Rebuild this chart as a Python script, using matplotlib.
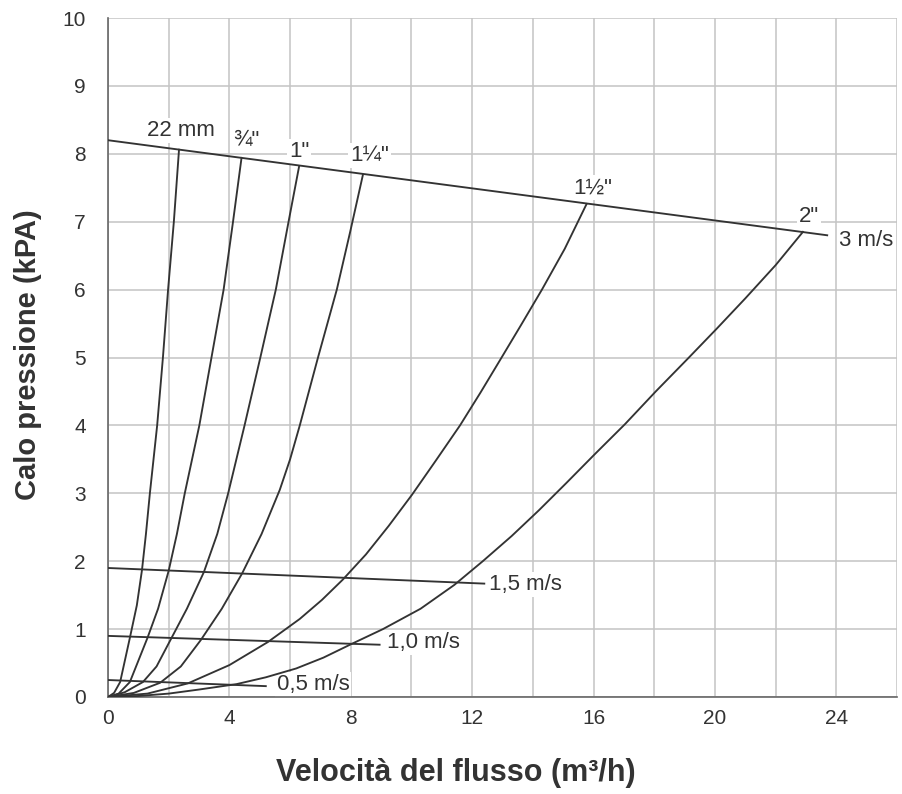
import matplotlib
matplotlib.use("Agg")
import matplotlib.pyplot as plt

plt.rcParams["font.family"] = ["Liberation Sans", "DejaVu Sans"]

# pipe curves: flow (m3/h) vs pressure drop (kPa)
x_22mm = [0, 0.2, 0.4, 0.72, 0.95, 1.12, 1.25, 1.38, 1.62, 1.81, 1.98, 2.17, 2.34]
y_22mm = [0, 0.06, 0.22, 0.87, 1.35, 1.87, 2.4, 3.0, 4.0, 5.0, 6.0, 7.0, 8.06]

x_34 = [0, 0.35, 0.72, 1.3, 1.65, 2.0, 2.27, 2.53, 3.01, 3.41, 3.81, 4.12, 4.4]
y_34 = [0, 0.05, 0.22, 0.87, 1.3, 1.86, 2.4, 3.0, 4.0, 5.0, 6.0, 7.0, 7.94]

x_1 = [0, 0.55, 1.15, 1.6, 2.07, 2.6, 3.16, 3.6, 3.96, 4.5, 5.02, 5.53, 5.95, 6.3]
y_1 = [0, 0.07, 0.22, 0.45, 0.85, 1.3, 1.84, 2.4, 3.0, 4.0, 5.0, 6.0, 7.0, 7.82]

x_114 = [0, 0.85, 1.72, 2.4, 3.06, 3.75, 4.42, 5.06, 5.66, 6.0, 6.32, 6.92, 7.54, 7.98, 8.4]
y_114 = [0, 0.06, 0.21, 0.45, 0.84, 1.3, 1.82, 2.4, 3.05, 3.5, 4.0, 5.0, 6.0, 6.85, 7.69]

x_112 = [0, 1.3, 2.63, 4.0, 5.27, 6.32, 7.05, 7.74, 8.5, 9.25, 10.02, 10.8, 11.6,
         12.27, 12.93, 13.6, 14.3, 15.05, 15.77]
y_112 = [0, 0.05, 0.2, 0.47, 0.81, 1.15, 1.43, 1.73, 2.1, 2.52, 2.98, 3.48, 4.0,
         4.48, 4.97, 5.47, 6.0, 6.6, 7.26]

x_2 = [0, 1.0, 2.0, 3.0, 4.24, 5.2, 6.2, 7.1, 8.02, 9.06, 10.3, 11.41, 12.35, 13.3,
       14.2, 15.1, 16.05, 17.04, 18.05, 19.1, 20.05, 21.0, 22.0, 22.9]
y_2 = [0, 0.015, 0.05, 0.11, 0.19, 0.29, 0.42, 0.58, 0.78, 1.0, 1.3, 1.65, 2.0, 2.37,
       2.75, 3.15, 3.58, 4.02, 4.5, 4.98, 5.42, 5.87, 6.36, 6.85]

pipe_x = [x_22mm, x_34, x_1, x_114, x_112, x_2]
pipe_y = [y_22mm, y_34, y_1, y_114, y_112, y_2]

# constant velocity lines (start, end)
vel_names = ["3 m/s", "1,5 m/s", "1,0 m/s", "0,5 m/s"]
vel_x = [[0, 23.7], [0, 12.4], [0, 8.95], [0, 5.2]]
vel_y = [[8.2, 6.8], [1.9, 1.67], [0.9, 0.77], [0.25, 0.16]]

# text labels and where they sit
pipe_names = ["22 mm", "¾\"", "1\"", "1¼\"", "1½\"", "2\""]
pipe_lab_x = [2.4, 4.57, 6.3, 8.62, 15.96, 23.1]
pipe_lab_y = [8.35, 8.19, 8.04, 7.97, 7.5, 7.07]
vel_lab_x = [24.1, 12.57, 9.2, 5.56]
vel_lab_y = [6.73, 1.65, 0.8, 0.18]

xticks = list(range(0, 27, 2))
xtick_labels = [str(v) if v % 4 == 0 and v <= 24 else "" for v in xticks]
yticks = list(range(0, 11))

fig = plt.figure(figsize=(9.03, 7.94), dpi=100)
ax = fig.add_axes([108 / 903, 1 - 697 / 794, (897 - 108) / 903, (697 - 18) / 794])

line_col = "#333333"
for xs, ys in zip(pipe_x, pipe_y):
    ax.plot(xs, ys, color=line_col, lw=1.35, solid_joinstyle="round", zorder=3)
for xs, ys in zip(vel_x, vel_y):
    ax.plot(xs, ys, color=line_col, lw=1.35, zorder=3)

# white boxes hide the grid behind the labels but not the curves
box = dict(facecolor="white", edgecolor="none", pad=1.5)
for name, lx, ly in zip(pipe_names, pipe_lab_x, pipe_lab_y):
    ax.text(lx, ly, name, ha="center", va="center", fontsize=16,
            color="#333333", bbox=box, zorder=2.5)
for name, lx, ly in zip(vel_names, vel_lab_x, vel_lab_y):
    ax.text(lx, ly, name, ha="left", va="center", fontsize=16,
            color="#333333", bbox=box, zorder=2.5)

ax.set_xlim(0, 26)
ax.set_ylim(0, 10)
ax.set_xticks(xticks)
ax.set_xticklabels(xtick_labels)
ax.set_yticks(yticks)
ax.grid(True, color="#c4c4c4", lw=1.1, zorder=0)
ax.set_axisbelow(True)
ax.tick_params(length=0, labelsize=15, labelcolor="#333333")
ax.tick_params(axis="x", pad=9)
ax.tick_params(axis="y", pad=16)
for side in ["top", "right"]:
    ax.spines[side].set_visible(False)
for side in ["left", "bottom"]:
    ax.spines[side].set_color("#666666")
    ax.spines[side].set_linewidth(1.2)

fig.text(456 / 903, 1 - 773 / 794, "Velocità del flusso (m³/h)", ha="center",
         va="center", fontsize=22, fontweight="bold", color="#333333")
fig.text(28 / 903, 1 - 355 / 794, "Calo pressione (kPA)", ha="center",
         va="center", rotation=90, fontsize=21, fontweight="bold", color="#333333")

fig.savefig("out.png", dpi=100)
